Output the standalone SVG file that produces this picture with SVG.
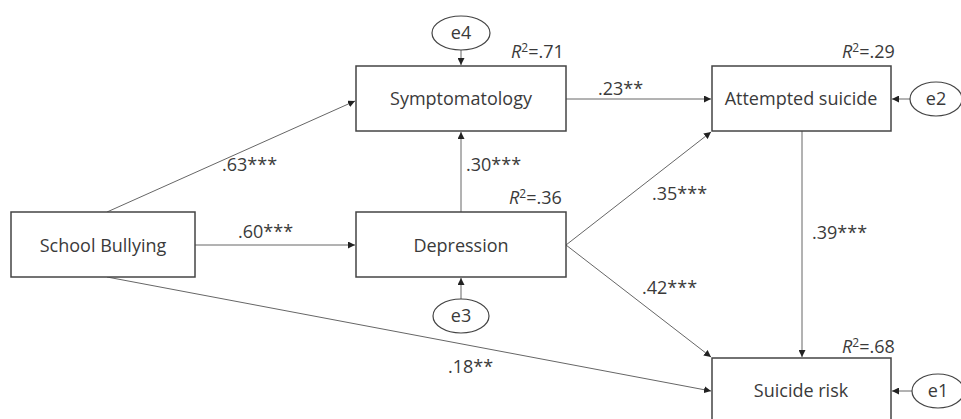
<svg xmlns="http://www.w3.org/2000/svg" width="961" height="419" viewBox="0 0 961 419">
<style>
.box{fill:#fff;stroke:#444;stroke-width:1.5}
.ell{fill:#fff;stroke:#444;stroke-width:1.2}
.t{font-family:"Open Sans","Noto Sans",sans-serif;font-size:18px;fill:#3a3a3a;text-anchor:middle}
.lb{font-family:"Open Sans","Noto Sans",sans-serif;font-size:18px;fill:#3a3a3a}
.c{stroke:#666;stroke-width:1;fill:none;marker-end:url(#ah)}
</style>
<defs>
<marker id="ah" viewBox="0 0 10 10" refX="10" refY="5" markerWidth="7" markerHeight="7" markerUnits="userSpaceOnUse" orient="auto">
<path d="M0,0 L10,5 L0,10 z" fill="#222"/>
</marker>
</defs>
<rect width="961" height="419" fill="#fff"/>
<g id="connectors">
<line class="c" x1="107" y1="212" x2="355" y2="101"/>
<line class="c" x1="195" y1="245" x2="355" y2="245"/>
<line class="c" x1="107" y1="277" x2="711" y2="391"/>
<line class="c" x1="461" y1="212" x2="461" y2="132"/>
<line class="c" x1="566" y1="99" x2="711" y2="99"/>
<line class="c" x1="566" y1="245" x2="711" y2="132"/>
<line class="c" x1="566" y1="245" x2="711" y2="357"/>
<line class="c" x1="802" y1="131" x2="802" y2="357"/>
<line class="c" x1="461" y1="50" x2="461" y2="65"/>
<line class="c" x1="461" y1="299" x2="461" y2="278"/>
<line class="c" x1="910" y1="99" x2="892" y2="99"/>
<line class="c" x1="912" y1="391" x2="892" y2="391"/>
</g>
<g id="schoolBullying">
<rect class="box" x="11" y="212" width="184" height="65"/>
<text class="t" x="103" y="252">School Bullying</text>
</g>
<g id="symptomatology">
<rect class="box" x="356" y="66" width="210" height="65"/>
<text class="t" x="461" y="105">Symptomatology</text>
</g>
<g id="depression">
<rect class="box" x="356" y="212" width="210" height="65"/>
<text class="t" x="461" y="252">Depression</text>
</g>
<g id="attemptedSuicide">
<rect class="box" x="712" y="66" width="179" height="65"/>
<text class="t" x="801" y="105">Attempted suicide</text>
</g>
<g id="suicideRisk">
<rect class="box" x="712" y="358" width="179" height="66"/>
<text class="t" x="801" y="397">Suicide risk</text>
</g>
<g id="e4">
<ellipse class="ell" cx="461" cy="33" rx="29" ry="17"/>
<text class="t" x="461" y="39">e4</text>
</g>
<g id="e3">
<ellipse class="ell" cx="461" cy="316" rx="28" ry="17"/>
<text class="t" x="461" y="322">e3</text>
</g>
<g id="e2">
<ellipse class="ell" cx="936" cy="99" rx="26" ry="17"/>
<text class="t" x="936" y="105">e2</text>
</g>
<g id="e1">
<ellipse class="ell" cx="938" cy="391" rx="26" ry="17"/>
<text class="t" x="938" y="397">e1</text>
</g>
<g id="labels">
<text class="lb" x="222" y="171">.63***</text>
<text class="lb" x="238" y="238">.60***</text>
<text class="lb" x="466" y="171">.30***</text>
<text class="lb" x="598" y="95">.23**</text>
<text class="lb" x="652" y="200">.35***</text>
<text class="lb" x="642" y="294">.42***</text>
<text class="lb" x="812" y="239">.39***</text>
<text class="lb" x="448" y="373">.18**</text>
<text class="lb" x="511" y="58"><tspan font-style="italic">R</tspan><tspan font-size="12" dy="-6">2</tspan><tspan dy="6">=.71</tspan></text>
<text class="lb" x="842" y="58"><tspan font-style="italic">R</tspan><tspan font-size="12" dy="-6">2</tspan><tspan dy="6">=.29</tspan></text>
<text class="lb" x="509" y="204"><tspan font-style="italic">R</tspan><tspan font-size="12" dy="-6">2</tspan><tspan dy="6">=.36</tspan></text>
<text class="lb" x="842" y="353"><tspan font-style="italic">R</tspan><tspan font-size="12" dy="-6">2</tspan><tspan dy="6">=.68</tspan></text>
</g>
</svg>
